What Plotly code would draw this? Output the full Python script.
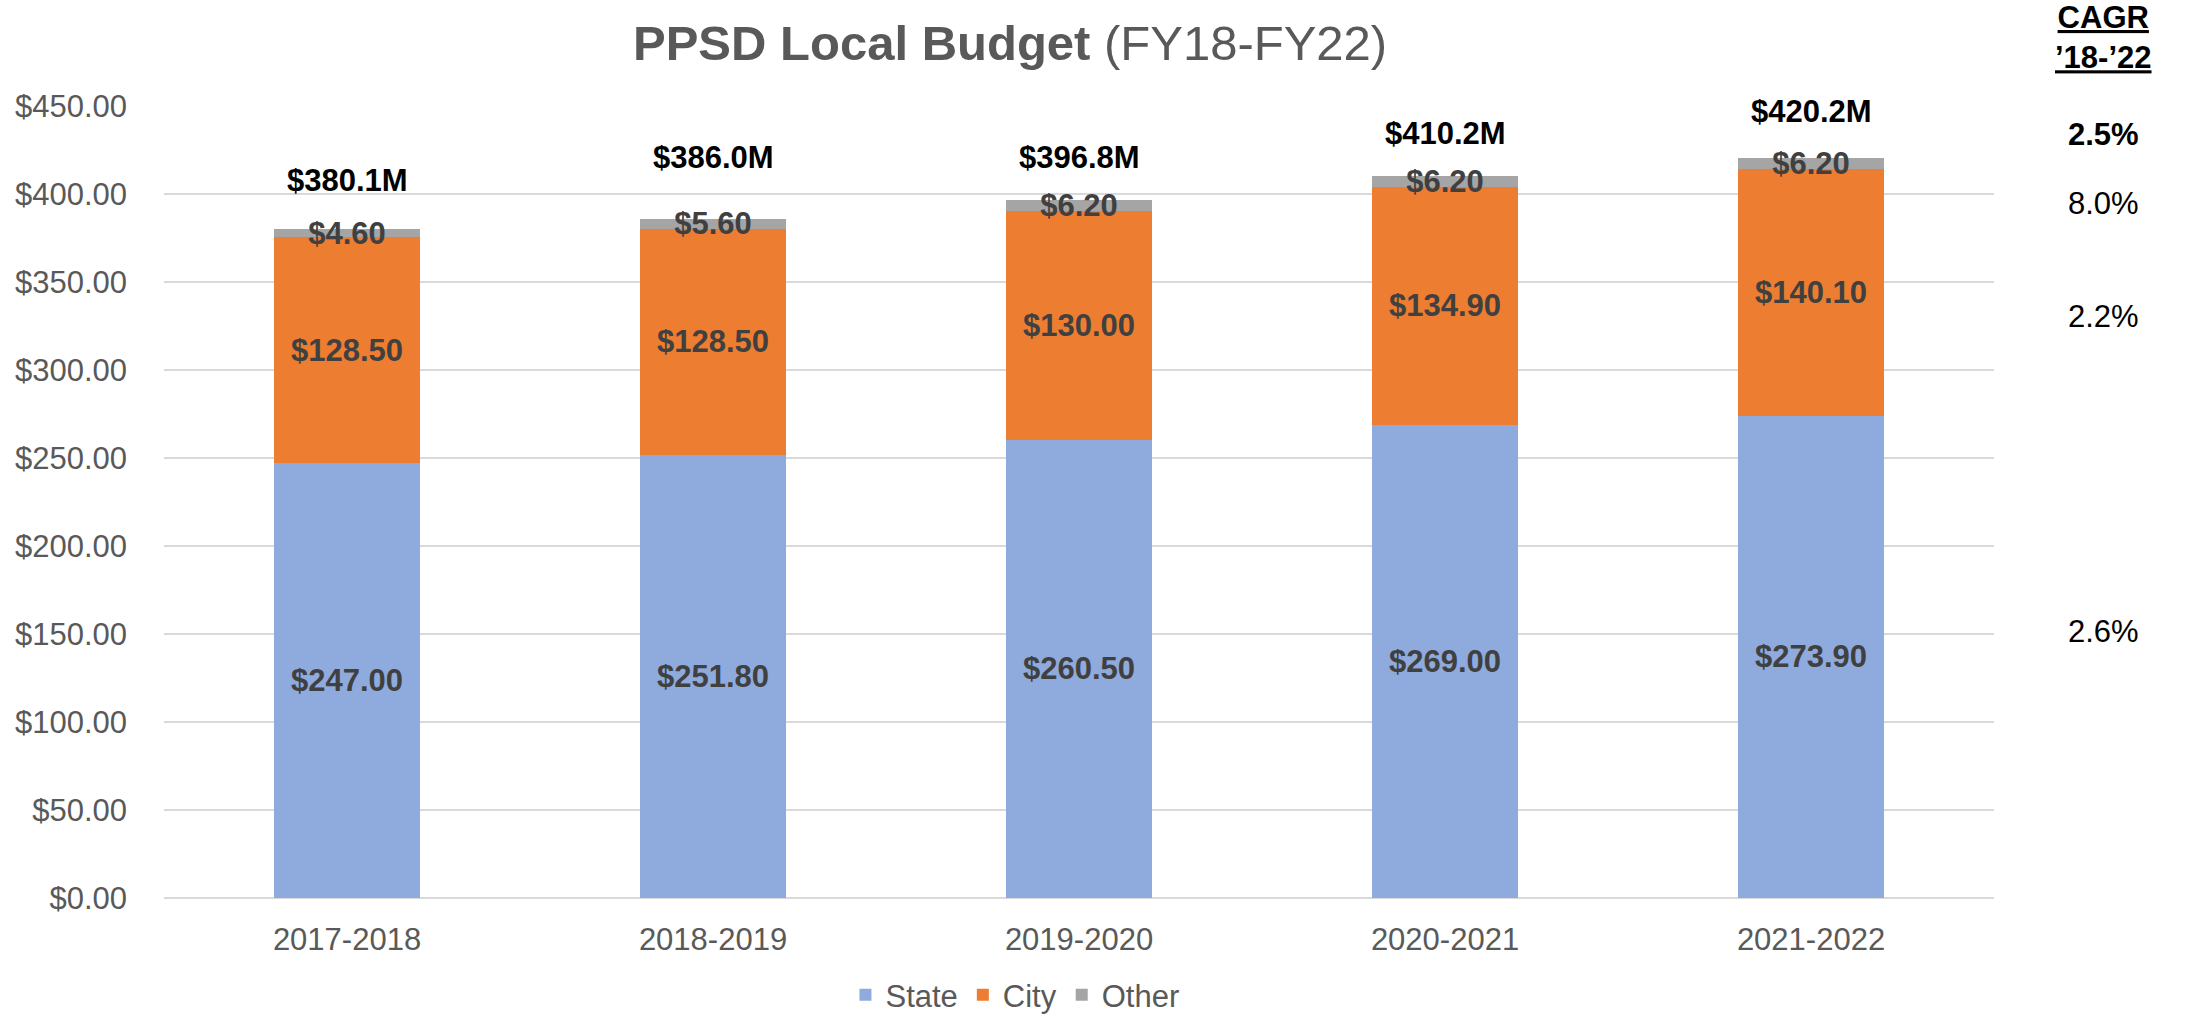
import plotly.graph_objects as go

# ---- data ----
years = ["2017-2018", "2018-2019", "2019-2020", "2020-2021", "2021-2022"]
state = [247.00, 251.80, 260.50, 269.00, 273.90]
city = [128.50, 128.50, 130.00, 134.90, 140.10]
other = [4.60, 5.60, 6.20, 6.20, 6.20]
totals = [380.1, 386.0, 396.8, 410.2, 420.2]
cagr_labels = ["2.5%", "8.0%", "2.2%", "2.6%"]

# ---- styling / positions ----
FONT = "Liberation Sans, Arial, sans-serif"
GREY = "#595959"
LABEL = "#404040"
total_offsets = [27.3, 34.5, 23.7, 23.9, 26.4]   # label height above bar top
cagr_y = [0.9634, 0.8763, 0.7336, 0.3359]       # paper y of CAGR values
cagr_bold = [True, False, False, False]

fig = go.Figure()
for name, vals, color in [("State", state, "#8FAADC"),
                          ("City", city, "#ED7D31"),
                          ("Other", other, "#A5A5A5")]:
    fig.add_trace(go.Bar(
        x=years, y=vals, name=name, marker_color=color, marker_line_width=0,
        width=0.40,
        text=[f"<b>${v:.2f}</b>" for v in vals],
        textposition="inside", insidetextanchor="middle",
        textangle=0, constraintext="none",
        textfont=dict(family=FONT, size=31, color=LABEL),
        hoverinfo="skip",
    ))

annotations = []
for yr, t, off in zip(years, totals, total_offsets):
    annotations.append(dict(
        x=yr, y=t + off, xref="x", yref="y", text=f"<b>${t:.1f}M</b>",
        showarrow=False, font=dict(family=FONT, size=31, color="black"),
        xanchor="center", yanchor="middle"))

annotations.append(dict(
    x=0.4623, y=1.0795, xref="paper", yref="paper",
    text="<b>PPSD Local Budget</b> (FY18-FY22)", showarrow=False,
    font=dict(family=FONT, size=49, color=GREY), xanchor="center", yanchor="middle"))

annotations.append(dict(
    x=1.0596, y=1.0859, xref="paper", yref="paper",
    text="<b><u>CAGR</u></b><br><b><u>’18-’22</u></b>", showarrow=False,
    font=dict(family=FONT, size=31, color="black"), xanchor="center", yanchor="middle"))

for lab, yy, b in zip(cagr_labels, cagr_y, cagr_bold):
    annotations.append(dict(
        x=1.0596, y=yy, xref="paper", yref="paper",
        text=f"<b>{lab}</b>" if b else lab, showarrow=False,
        font=dict(family=FONT, size=31, color="black"), xanchor="center", yanchor="middle"))

fig.update_layout(
    width=2187, height=1014,
    margin=dict(l=164, r=193, t=106, b=116, autoexpand=False),
    barmode="stack",
    plot_bgcolor="white", paper_bgcolor="white",
    font=dict(family=FONT, size=31, color=GREY),
    showlegend=True,
    legend=dict(orientation="h", x=0.465, y=-0.1225, xanchor="center", yanchor="middle",
                font=dict(family=FONT, size=31, color=GREY), traceorder="normal",
                itemwidth=30),
    annotations=annotations,
    hovermode=False,
)
fig.update_xaxes(showgrid=False, showline=False, ticks="", zeroline=False,
                 ticklabelstandoff=20,
                 tickfont=dict(family=FONT, size=31, color=GREY))
fig.update_yaxes(range=[0, 450], dtick=50, tickprefix="$", tickformat=",.2f",
                 showgrid=True, gridcolor="#D9D9D9", gridwidth=2,
                 zeroline=True, zerolinecolor="#D9D9D9", zerolinewidth=2,
                 showline=False, ticks="", ticklabelstandoff=36,
                 tickfont=dict(family=FONT, size=31, color=GREY))

fig.write_html("out.html")
